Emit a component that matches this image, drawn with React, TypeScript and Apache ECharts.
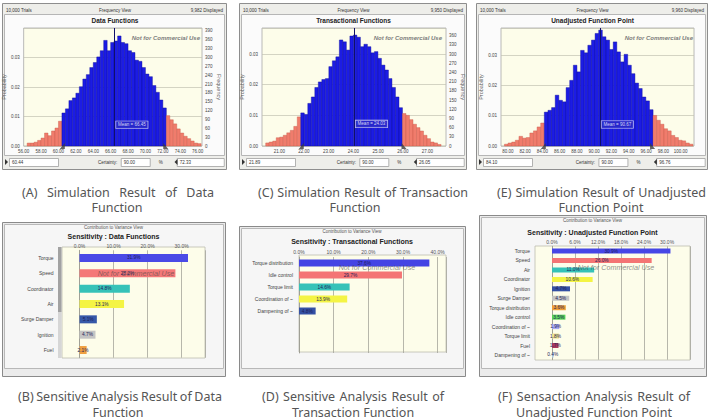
import React, { useEffect, useRef } from "react";
import * as echarts from "echarts";

const TRIALS = 10000;

// ---- Forecast: Data Functions (counts per bin) ----
const dataFnCounts = [
  10, 10, 13, 19, 27, 44, 35, 51, 61, 84,
  112, 126, 154, 163, 179, 201, 227, 242, 266, 283,
  302, 323, 358, 323, 351, 356, 373, 351, 347, 323,
  317, 291, 287, 266, 244, 235, 205, 182, 156, 129,
  103, 89, 75, 58, 44, 33, 25, 17, 10, 8,
];
const dataFnBinStart = 56.4;
const dataFnBinWidth = 0.4;
const dataFnMean = 66.45;
const dataFnCertainty = [60.44, 72.33];
const dataFnTicks = [56, 58, 60, 62, 64, 66, 68, 70, 72, 74, 76];

// ---- Forecast: Transactional Functions ----
const transFnCounts = [
  10, 13, 16, 27, 29, 35, 43, 51, 64, 95,
  108, 103, 139, 160, 191, 209, 217, 220, 259, 278,
  291, 346, 340, 313, 359, 362, 355, 324, 332, 324,
  304, 308, 286, 264, 248, 220, 191, 160, 125, 106,
  100, 86, 71, 60, 49, 35, 24, 13, 10, 5,
];
const transFnBinStart = 20.45;
const transFnBinWidth = 0.142;
const transFnMean = 24.03;
const transFnCertainty = [21.89, 26.05];
const transFnTicks = [21, 22, 23, 24, 25, 26, 27];

// ---- Forecast: Unadjusted Function Point ----
const ufpCounts = [
  6, 10, 13, 19, 32, 26, 28, 43, 50, 63, 76,
  112, 118, 127, 168, 151, 146, 193, 217, 267, 245,
  316, 308, 333, 350, 372, 383, 361, 350, 319, 344,
  311, 278, 303, 267, 239, 208, 190, 162, 149, 120,
  101, 85, 72, 57, 50, 35, 28, 19, 17, 10, 6,
];
const ufpBinStart = 79.6;
const ufpBinWidth = 0.42;
const ufpMean = 90.67;
const ufpCertainty = [84.1, 96.76];
const ufpTicks = [80, 82, 84, 86, 88, 90, 92, 94, 96, 98, 100];

// ---- Sensitivity: Data Functions (% contribution to variance) ----
const dataSensCats = ["Torque", "Speed", "Coordinator", "Air", "Surge Damper", "Ignition", "Fuel"];
const dataSensValues = [31.9, 28.2, 14.8, 13.1, 5.1, 4.7, 2.1];
const dataSensColors = ["#4a4ae6", "#f47878", "#36c2b8", "#f4f444", "#3658a8", "#c4c4c4", "#f0a040"];

// ---- Sensitivity: Transactional Functions ----
const transSensCats = ["Torque distribution", "Idle control", "Torque limit", "Coordination of ~", "Dampening of ~"];
const transSensValues = [37.6, 29.7, 14.6, 13.9, 4.8];
const transSensColors = ["#4444e4", "#f47474", "#36c2b8", "#f4f444", "#3450a4"];

// ---- Sensitivity: Unadjusted Function Point ----
const ufpSensCats = [
  "Torque", "Speed", "Air", "Coordinator", "Ignition", "Surge Damper",
  "Torque distribution", "Idle control", "Coordination of ~", "Torque limit", "Fuel", "Dampening of ~",
];
const ufpSensValues = [30.9, 26.0, 11.0, 10.6, 4.7, 4.5, 3.6, 3.5, 1.9, 1.8, 1.7, 0.4];
const ufpSensColors = [
  "#4646e6", "#f47474", "#36c2b8", "#f4f444", "#3450a4", "#c4c4c4",
  "#f0a038", "#58d458", "#a8a8f0", "#f0e08a", "#a8385a", "#a8c8e8",
];

const SANS = "Liberation Sans";
const CAPTION_FONT = "Noto Sans";
const CAPTION_SIZE = 12.5;
const CAPTION_COLOR = "#555555";
const BLUE = "#1c1ce4";
const SALMON = "#f07c6c";
const CREAM = "#fdfdea";

function binData(counts: number[], start: number, width: number, certainty: number[]) {
  return counts.map((c, i) => {
    const x0 = start + i * width;
    const x1 = x0 + width;
    const mid = (x0 + x1) / 2;
    const inside = mid >= certainty[0] && mid <= certainty[1] ? 1 : 0;
    return [x0, x1, c / TRIALS, inside];
  });
}

function histSeries(axis: number, yAxis: number, counts: number[], start: number, width: number,
  certainty: number[], mean: number, meanLabelY: number) {
  return [
    {
      type: "custom",
      xAxisIndex: axis,
      yAxisIndex: yAxis,
      encode: { x: [0, 1], y: 2 },
      data: binData(counts, start, width, certainty),
      renderItem: (_params: any, api: any) => {
        const top = api.coord([api.value(0), api.value(2)]);
        const bottom = api.coord([api.value(1), 0]);
        const inside = api.value(3) === 1;
        return {
          type: "rect",
          shape: { x: top[0], y: top[1], width: bottom[0] - top[0], height: bottom[1] - top[1] },
          style: {
            fill: inside ? BLUE : SALMON,
            stroke: inside ? "#0b0b96" : "#c85848",
            lineWidth: 0.4,
          },
        };
      },
      z: 2,
    },
    {
      type: "scatter",
      xAxisIndex: axis,
      yAxisIndex: yAxis,
      symbol: "rect",
      symbolSize: 1,
      itemStyle: { color: "rgba(0,0,0,0)" },
      data: [[mean, meanLabelY]],
      label: {
        show: true,
        position: "right",
        distance: 1,
        formatter: "Mean = " + mean.toFixed(2),
        fontSize: 4.5,
        fontFamily: SANS,
        color: "#ffffff",
        backgroundColor: "#2a2ac8",
        borderColor: "#ffffff",
        borderWidth: 0.6,
        padding: [1, 2, 1, 2],
      },
      markLine: {
        silent: true,
        symbol: ["none", "none"],
        label: { show: false },
        lineStyle: { color: "#10106a", width: 1, type: "solid" },
        data: [{ xAxis: mean }],
      },
      z: 5,
    },
    {
      type: "scatter",
      xAxisIndex: axis,
      yAxisIndex: yAxis,
      symbolSize: [5, 6],
      itemStyle: { color: "#3c3c3c" },
      data: [
        { value: [certainty[0], 0], symbol: "path://M10 0 L10 10 L0 10 Z" },
        { value: [certainty[1], 0], symbol: "path://M0 0 L10 10 L0 10 Z" },
      ],
      z: 6,
    },
  ];
}

const tinyLabel = { fontSize: 4.5, fontFamily: SANS, color: "#444" };

function histAxes(grid: number, min: number, max: number, ticks: number[]) {
  return {
    type: "value",
    gridIndex: grid,
    min,
    max,
    axisLine: { show: false },
    axisTick: { show: false },
    splitLine: { show: false },
    axisLabel: {
      ...tinyLabel,
      margin: 3,
      customValues: ticks,
      formatter: (v: number) => v.toFixed(2),
    },
  };
}

function probAxis(grid: number, max: number, nameGap: number) {
  return {
    type: "value",
    gridIndex: grid,
    min: 0,
    max,
    interval: 0.01,
    position: "left",
    name: "Probability",
    nameLocation: "middle",
    nameRotate: 90,
    nameGap,
    nameTextStyle: { fontSize: 5.5, fontFamily: SANS, color: "#666" },
    axisLine: { show: false },
    axisTick: { show: false },
    splitLine: { show: true, lineStyle: { color: "#c2c2b2", width: 0.7 } },
    axisLabel: { ...tinyLabel, margin: 4, showMaxLabel: false, formatter: (v: number) => v.toFixed(2) },
  };
}

function freqAxis(grid: number, max: number, nameGap: number) {
  return {
    type: "value",
    gridIndex: grid,
    min: 0,
    max,
    interval: 30,
    position: "right",
    name: "Frequency",
    nameLocation: "middle",
    nameRotate: -90,
    nameGap,
    nameTextStyle: { fontSize: 5.5, fontFamily: SANS, color: "#666" },
    axisLine: { show: false },
    axisTick: { show: false },
    splitLine: { show: false },
    axisLabel: { ...tinyLabel, margin: 3, showMaxLabel: false },
  };
}

function sensXAxis(grid: number, max: number, interval: number, margin: number) {
  return {
    type: "value",
    gridIndex: grid,
    position: "top",
    min: 0,
    max,
    interval,
    axisLine: { show: false },
    axisTick: { show: false },
    splitLine: { show: true, lineStyle: { color: "#a4a49a", width: 0.8 } },
    axisLabel: {
      fontSize: 5,
      fontFamily: SANS,
      color: "#555",
      margin,
      showMaxLabel: false,
      formatter: (v: number) => v.toFixed(1) + "%",
    },
  };
}

function sensYAxis(grid: number, cats: string[], margin: number) {
  return {
    type: "category",
    gridIndex: grid,
    inverse: true,
    data: cats,
    axisLine: { show: true, lineStyle: { color: "#9a9a90", width: 0.8 } },
    axisTick: { show: false },
    splitLine: { show: false },
    axisLabel: { fontSize: 5, fontFamily: SANS, color: "#444", margin },
  };
}

function sensSeries(axis: number, yAxis: number, values: number[], colors: string[], barWidth: number) {
  return {
    type: "bar",
    xAxisIndex: axis,
    yAxisIndex: yAxis,
    barWidth,
    data: values.map((v, i) => ({ value: v, itemStyle: { color: colors[i] } })),
    label: {
      show: true,
      position: "inside",
      fontSize: 4.8,
      fontFamily: SANS,
      color: "#1e1e58",
      formatter: (p: any) => Number(p.value).toFixed(1) + "%",
    },
    z: 3,
  };
}

function txt(x: number, y: number, text: string, size: number, opts: any = {}) {
  const align = opts.align || "center";
  return {
    type: "text",
    x,
    y,
    z: 50,
    rotation: opts.rotation || 0,
    style: {
      text,
      fill: opts.color || "#333",
      fontSize: size,
      fontFamily: opts.family || SANS,
      fontWeight: opts.weight || "normal",
      fontStyle: opts.style || "normal",
      align,
      textAlign: align,
      verticalAlign: "middle",
      textVerticalAlign: "middle",
    },
  };
}

function box(x: number, y: number, w: number, h: number, fill: string, stroke: string, z = -20, lw = 1) {
  return { type: "rect", z, shape: { x, y, width: w, height: h }, style: { fill, stroke, lineWidth: lw } };
}

let measureCtx: CanvasRenderingContext2D | null = null;
function textWidth(text: string, size: number, family: string) {
  if (!measureCtx) measureCtx = document.createElement("canvas").getContext("2d");
  if (!measureCtx) return text.length * size * 0.52;
  measureCtx.font = `${size}px "${family}"`;
  return measureCtx.measureText(text).width;
}

// A caption line spread evenly between two edges, like justified text
function justified(left: number, right: number, y: number, line: string) {
  const words = line.split(" ");
  const widths = words.map((w) => textWidth(w, CAPTION_SIZE, CAPTION_FONT));
  const total = widths.reduce((a, b) => a + b, 0);
  const gap = (right - left - total) / Math.max(1, words.length - 1);
  let x = left;
  return words.map((w, i) => {
    const el = txt(x, y, w, CAPTION_SIZE, { family: CAPTION_FONT, color: CAPTION_COLOR, align: "left" });
    x += widths[i] + gap;
    return el;
  });
}

const centred = (x: number, y: number, t: string) =>
  txt(x, y, t, CAPTION_SIZE, { family: CAPTION_FONT, color: CAPTION_COLOR });

function topPanel(x0: number, w: number, displayed: string, title: string, lo: string, hi: string) {
  const els: any[] = [
    box(x0 + 0.5, 3.5, w, 166, "#eeeeea", "#8e8e8e", -30),
    box(x0 + 2.5, 14.5, w - 4, 141, "#fbfbfb", "#b6b6b6", -25),
    txt(x0 + 4, 10, "10,000 Trials", 4.5, { align: "left" }),
    txt(x0 + w / 2 + 1, 10, "Frequency View", 4.5),
    txt(x0 + w - 3, 10, displayed, 4.5, { align: "right" }),
    txt(x0 + w / 2 + 1, 20, title, 6.5, { weight: "bold", color: "#222" }),
  ];
  // certainty input row
  const y = 158;
  els.push(
    { type: "polygon", z: 50, shape: { points: [[x0 + 3, y + 1], [x0 + 6, y + 4], [x0 + 3, y + 7]] }, style: { fill: "#333" } },
    box(x0 + 7.5, y + 0.5, 49, 8, "#ffffff", "#a0a0a0", -10, 0.8),
    txt(x0 + 10, y + 4.5, lo, 4.5, { align: "left" }),
    txt(x0 + w * 0.515, y + 4.5, "Certainty:", 4.5, { align: "right" }),
    box(x0 + w * 0.53 + 0.5, y + 0.5, 29, 8, "#ffffff", "#a0a0a0", -10, 0.8),
    txt(x0 + w * 0.53 + 3, y + 4.5, "90.00", 4.5, { align: "left" }),
    txt(x0 + w * 0.53 + 38, y + 4.5, "%", 4.5, { align: "left" }),
    { type: "polygon", z: 50, shape: { points: [[x0 + w * 0.77 + 3, y + 1], [x0 + w * 0.77, y + 4], [x0 + w * 0.77 + 3, y + 7]] }, style: { fill: "#333" } },
    box(x0 + w * 0.78 + 0.5, y + 0.5, w * 0.21, 8, "#ffffff", "#a0a0a0", -10, 0.8),
    txt(x0 + w * 0.78 + 3, y + 4.5, hi, 4.5, { align: "left" }),
  );
  return els;
}

function sensPanel(x0: number, y0: number, w: number, title: string, titleY: number) {
  return [
    box(x0 + 0.5, y0 + 0.5, w, 376 - y0, "#ebebeb", "#8a8a8a", -30),
    box(x0 + 2.5, y0 + 2.5, w - 4, 366 - y0, "#f6f6f6", "#b8b8b8", -25),
    txt(x0 + w / 2, y0 + 5.5, "Contribution to Variance View", 4.5, { color: "#555" }),
    txt(x0 + w / 2, titleY, title, 7, { weight: "bold", color: "#222" }),
  ];
}

const watermarkTop = (x: number) =>
  txt(x, 38, "Not for Commercial Use", 6, { align: "right", weight: "bold", style: "italic", color: "#7c7c7c" });
const watermarkSens = (x: number, y: number) =>
  txt(x, y, "Not for Commercial Use", 7.2, { style: "italic", color: "rgba(70,70,70,0.62)" });

function buildOption() {
  const graphics: any[] = [
    ...topPanel(2, 224, "9,982 Displayed", "Data Functions", "60.44", "72.33"),
    ...topPanel(239, 227, "9,950 Displayed", "Transactional Functions", "21.89", "26.05"),
    ...topPanel(476, 231, "9,960 Displayed", "Unadjusted Function Point", "84.10", "96.76"),
    watermarkTop(200),
    watermarkTop(442),
    watermarkTop(693),
    ...sensPanel(2, 222, 223, "Sensitivity : Data Functions", 236),
    ...sensPanel(239, 226, 226, "Sensitivity : Transactional Functions", 241),
    ...sensPanel(479, 215, 227, "Sensitivity : Unadjusted Function Point", 232),
    // plot backgrounds of the sensitivity charts
    box(62, 247, 143, 111, CREAM, "#bdbdb0", -5, 0.8),
    box(58, 247, 3.5, 65, "#a2a2a2", "none", -4),
    box(58, 312, 3.5, 46, "#d6d6d6", "none", -4),
    box(299, 255, 147, 97, CREAM, "#bdbdb0", -5, 0.8),
    box(535, 246, 155, 114, CREAM, "#bdbdb0", -5, 0.8),
    watermarkSens(136, 273),
    watermarkSens(377, 267),
    watermarkSens(616, 267),
    ...justified(22, 214, 192, "(A) Simulation Result of Data"),
    centred(117, 207, "Function"),
    ...justified(258, 468, 192, "(C) Simulation Result of Transaction"),
    centred(355, 207, "Function"),
    ...justified(497, 706, 192, "(E) Simulation Result of Unadjusted"),
    centred(601, 207, "Function Point"),
    ...justified(18, 222, 396, "(B) Sensitive Analysis Result of Data"),
    centred(118, 412, "Function"),
    ...justified(262, 444, 396, "(D) Sensitive Analysis Result of"),
    centred(353, 412, "Transaction Function"),
    ...justified(498, 690, 396, "(F) Sensaction Analysis Result of"),
    centred(594, 412, "Unadjusted Function Point"),
  ];

  const histGrid = { show: true, backgroundColor: CREAM, borderColor: "#a8a8a8", borderWidth: 0.8 };

  return {
    animation: false,
    backgroundColor: "#ffffff",
    grid: [
      { ...histGrid, left: 23, top: 28, width: 179, height: 118 },
      { ...histGrid, left: 262, top: 28, width: 184, height: 118 },
      { ...histGrid, left: 501, top: 28, width: 193, height: 118 },
      { left: 79.5, top: 250.3, width: 125.5, height: 107.4 },
      { left: 299, top: 257, width: 147, height: 96 },
      { left: 552, top: 246.3, width: 138, height: 113.4 },
    ],
    xAxis: [
      histAxes(0, 56, 76.5, dataFnTicks),
      histAxes(1, 20.3, 27.75, transFnTicks),
      histAxes(2, 79.2, 101.56, ufpTicks),
      sensXAxis(3, 36.9, 10, 2),
      sensXAxis(4, 42.4, 10, 3),
      sensXAxis(5, 36, 6, 2),
    ],
    yAxis: [
      probAxis(0, 0.04, 14),
      freqAxis(0, 400, 13),
      probAxis(1, 0.0385, 15),
      freqAxis(1, 385, 11),
      probAxis(2, 0.039, 13),
      sensYAxis(3, dataSensCats, 26),
      sensYAxis(4, transSensCats.concat(["", "", ""]), 6),
      sensYAxis(5, ufpSensCats, 22),
    ],
    graphic: { elements: graphics },
    series: [
      ...histSeries(0, 0, dataFnCounts, dataFnBinStart, dataFnBinWidth, dataFnCertainty, dataFnMean, 0.0072),
      ...histSeries(1, 2, transFnCounts, transFnBinStart, transFnBinWidth, transFnCertainty, transFnMean, 0.0072),
      ...histSeries(2, 4, ufpCounts, ufpBinStart, ufpBinWidth, ufpCertainty, ufpMean, 0.0071),
      sensSeries(3, 5, dataSensValues, dataSensColors, 8),
      sensSeries(4, 6, transSensValues, transSensColors, 7),
      sensSeries(5, 7, ufpSensValues, ufpSensColors, 5),
    ],
  };
}

export default function App() {
  const ref = useRef<HTMLDivElement>(null);
  useEffect(() => {
    if (!ref.current) return;
    const chart = echarts.init(ref.current, undefined, { renderer: "svg", width: 708, height: 420 });
    chart.setOption(buildOption() as any);
    return () => chart.dispose();
  }, []);
  return (
    <div
      ref={ref}
      style={{ position: "absolute", left: 0, top: 0, width: 708, height: 420, background: "#ffffff" }}
    />
  );
}
